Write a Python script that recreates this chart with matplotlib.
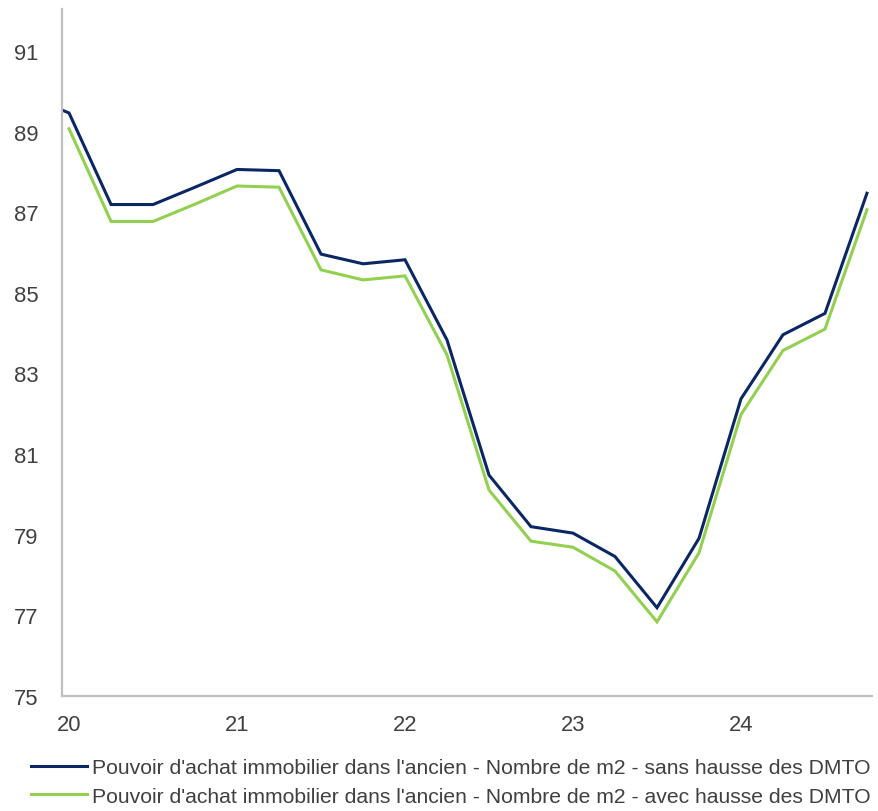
import matplotlib
matplotlib.use("Agg")
import matplotlib.pyplot as plt
from matplotlib.lines import Line2D

plt.rcParams['font.family'] = ['Liberation Sans', 'DejaVu Sans']

# Quarterly time axis (two-digit years)
quarters_sans = [19.75, 20.0, 20.25, 20.5, 20.75, 21.0, 21.25, 21.5, 21.75, 22.0,
                 22.25, 22.5, 22.75, 23.0, 23.25, 23.5, 23.75, 24.0, 24.25, 24.5, 24.75]
sans_hausse = [89.9, 89.46, 87.19, 87.19, 87.62, 88.06, 88.03, 85.96, 85.72, 85.82,
               83.83, 80.48, 79.20, 79.04, 78.46, 77.19, 78.91, 82.37, 83.96, 84.49, 87.47]

quarters_avec = [20.0, 20.25, 20.5, 20.75, 21.0, 21.25, 21.5, 21.75, 22.0,
                 22.25, 22.5, 22.75, 23.0, 23.25, 23.5, 23.75, 24.0, 24.25, 24.5, 24.75]
avec_hausse = [89.07, 86.77, 86.77, 87.20, 87.65, 87.62, 85.57, 85.32, 85.42,
               83.46, 80.11, 78.84, 78.69, 78.10, 76.84, 78.55, 81.98, 83.57, 84.10, 87.06]

label_sans = "Pouvoir d'achat immobilier dans l'ancien - Nombre de m2 - sans hausse des DMTO"
label_avec = "Pouvoir d'achat immobilier dans l'ancien - Nombre de m2 - avec hausse des DMTO"

x_ticks = [20, 21, 22, 23, 24]
x_tick_labels = ["20", "21", "22", "23", "24"]
y_ticks = [75, 77, 79, 81, 83, 85, 87, 89, 91]

navy = "#0B2665"
green = "#92D050"
grey_axis = "#BFBFBF"
text_col = "#404040"
fs = 15.8
legend_fs = 15.2

fig = plt.figure(figsize=(8.79, 8.12), dpi=100)
ax = fig.add_axes([62 / 879, 1 - 697 / 812, (872 - 62) / 879, (697 - 10) / 812])

ax.plot(quarters_sans, sans_hausse, color=navy, lw=2.2, solid_joinstyle='miter')
ax.plot(quarters_avec, avec_hausse, color=green, lw=2.2, solid_joinstyle='miter')

ax.set_xlim(19.958, 24.78)
ax.set_ylim(75, 92.04)
ax.set_xticks(x_ticks)
ax.set_xticklabels(x_tick_labels)
ax.set_yticks(y_ticks)
ax.tick_params(axis='both', length=0, labelsize=fs, colors=text_col)
ax.tick_params(axis='x', pad=13)
ax.tick_params(axis='y', pad=17)
for side in ('top', 'right'):
    ax.spines[side].set_visible(False)
for side in ('left', 'bottom'):
    ax.spines[side].set_color(grey_axis)
    ax.spines[side].set_linewidth(1.6)

handles = [Line2D([], [], color=navy, lw=2.2), Line2D([], [], color=green, lw=2.2)]
fig.legend(handles, [label_sans, label_avec], loc='center left',
           bbox_to_anchor=(23 / 879, 1 - 783 / 812), frameon=False, fontsize=legend_fs,
           labelcolor=text_col, handlelength=2.65, handletextpad=0.2,
           labelspacing=0.45, borderaxespad=0.0)

fig.savefig("out.png", dpi=100)
